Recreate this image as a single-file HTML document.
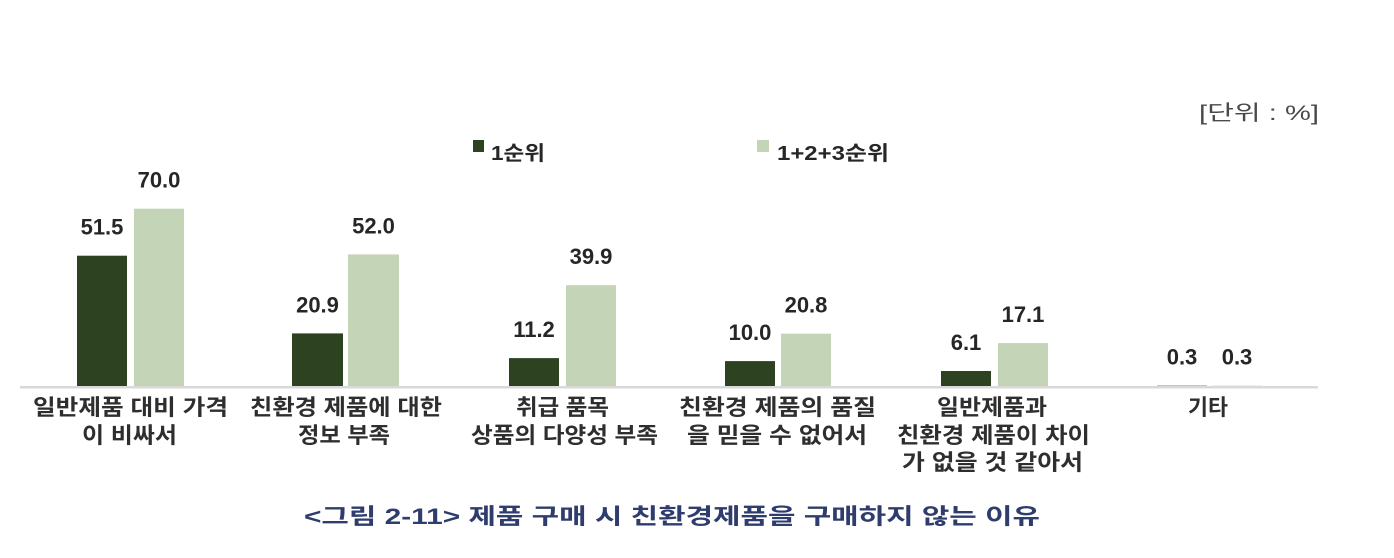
<!DOCTYPE html>
<html>
<head>
<meta charset="utf-8">
<style>
  html, body { margin: 0; padding: 0; background: #ffffff; }
  body { width: 1394px; height: 558px; overflow: hidden; }
  svg { display: block; }
  .val { font-family: "Liberation Sans", "Noto Sans CJK KR", sans-serif; font-weight: bold; font-size: 22px; fill: #262626; }
  .cat { font-family: "Liberation Sans", "Noto Sans CJK KR", sans-serif; font-weight: bold; font-size: 22px; fill: #2e2e2e; }
  .leg { font-family: "Liberation Sans", "Noto Sans CJK KR", sans-serif; font-weight: bold; font-size: 20px; fill: #262626; }
  .unit { font-family: "Liberation Sans", "Noto Sans CJK KR", sans-serif; font-size: 21px; fill: #4a4a4a; }
  .cap { font-family: "Liberation Sans", "Noto Sans CJK KR", sans-serif; font-weight: bold; font-size: 22px; fill: #2e3c6e; }
</style>
</head>
<body>
<svg width="1394" height="558" viewBox="0 0 1394 558" xmlns="http://www.w3.org/2000/svg">
  <rect x="0" y="0" width="1394" height="558" fill="#ffffff"/>

  <!-- unit -->
  <text class="unit" x="1199" y="120" textLength="120" lengthAdjust="spacingAndGlyphs">[단위 : %]</text>

  <!-- legend -->
  <rect x="473" y="140" width="11" height="12" fill="#2c4220"/>
  <text class="leg" x="491" y="160" textLength="54" lengthAdjust="spacingAndGlyphs">1순위</text>
  <rect x="757" y="140" width="12" height="12" fill="#c4d4b6"/>
  <text class="leg" x="777" y="160" textLength="112" lengthAdjust="spacingAndGlyphs">1+2+3순위</text>

  <!-- bars -->
  <g>
    <rect x="77" y="255.7" width="50" height="130.8" fill="#2c4220"/>
    <rect x="134" y="208.7" width="50" height="177.8" fill="#c4d4b6"/>

    <rect x="292" y="333.4" width="51" height="53.1" fill="#2c4220"/>
    <rect x="348" y="254.4" width="51" height="132.1" fill="#c4d4b6"/>

    <rect x="509" y="358.1" width="50" height="28.4" fill="#2c4220"/>
    <rect x="566" y="285.2" width="50" height="101.3" fill="#c4d4b6"/>

    <rect x="725" y="361.1" width="50" height="25.4" fill="#2c4220"/>
    <rect x="781" y="333.7" width="50" height="52.8" fill="#c4d4b6"/>

    <rect x="941" y="371" width="50" height="15.5" fill="#2c4220"/>
    <rect x="998" y="343.1" width="50" height="43.4" fill="#c4d4b6"/>

    <rect x="1157" y="385.7" width="50" height="0.8" fill="#2c4220"/>
    <rect x="1212" y="385.7" width="50" height="0.8" fill="#c4d4b6"/>
  </g>

  <!-- axis line -->
  <rect x="20" y="386" width="1298" height="2.5" fill="#d9d9d9"/>

  <!-- value labels -->
  <g class="val" text-anchor="middle">
    <text x="102" y="234.7">51.5</text>
    <text x="159" y="187.7">70.0</text>
    <text x="317.5" y="312.4">20.9</text>
    <text x="373.5" y="233.4">52.0</text>
    <text x="534" y="337.1">11.2</text>
    <text x="591" y="264.2">39.9</text>
    <text x="750" y="340.1">10.0</text>
    <text x="806" y="312.7">20.8</text>
    <text x="966" y="350">6.1</text>
    <text x="1023" y="322.1">17.1</text>
    <text x="1182" y="364.7">0.3</text>
    <text x="1237" y="364.7">0.3</text>
  </g>

  <!-- category labels -->
  <g class="cat">
    <text x="33" y="415" textLength="195" lengthAdjust="spacingAndGlyphs">일반제품 대비 가격</text>
    <text x="82" y="443" textLength="95" lengthAdjust="spacingAndGlyphs">이 비싸서</text>

    <text x="250" y="415" textLength="192" lengthAdjust="spacingAndGlyphs">친환경 제품에 대한</text>
    <text x="298" y="443" textLength="92" lengthAdjust="spacingAndGlyphs">정보 부족</text>

    <text x="516" y="415" textLength="93" lengthAdjust="spacingAndGlyphs">취급 품목</text>
    <text x="471" y="443" textLength="187" lengthAdjust="spacingAndGlyphs">상품의 다양성 부족</text>

    <text x="679" y="415" textLength="197" lengthAdjust="spacingAndGlyphs">친환경 제품의 품질</text>
    <text x="687" y="443" textLength="180" lengthAdjust="spacingAndGlyphs">을 믿을 수 없어서</text>

    <text x="937" y="415" textLength="110" lengthAdjust="spacingAndGlyphs">일반제품과</text>
    <text x="897" y="443" textLength="193" lengthAdjust="spacingAndGlyphs">친환경 제품이 차이</text>
    <text x="902" y="470" textLength="181" lengthAdjust="spacingAndGlyphs">가 없을 것 같아서</text>

    <text x="1188" y="415" textLength="40" lengthAdjust="spacingAndGlyphs">기타</text>
  </g>

  <!-- caption -->
  <text class="cap" x="304" y="524" textLength="736" lengthAdjust="spacingAndGlyphs">&lt;그림 2-11&gt; 제품 구매 시 친환경제품을 구매하지 않는 이유</text>
</svg>
</body>
</html>
